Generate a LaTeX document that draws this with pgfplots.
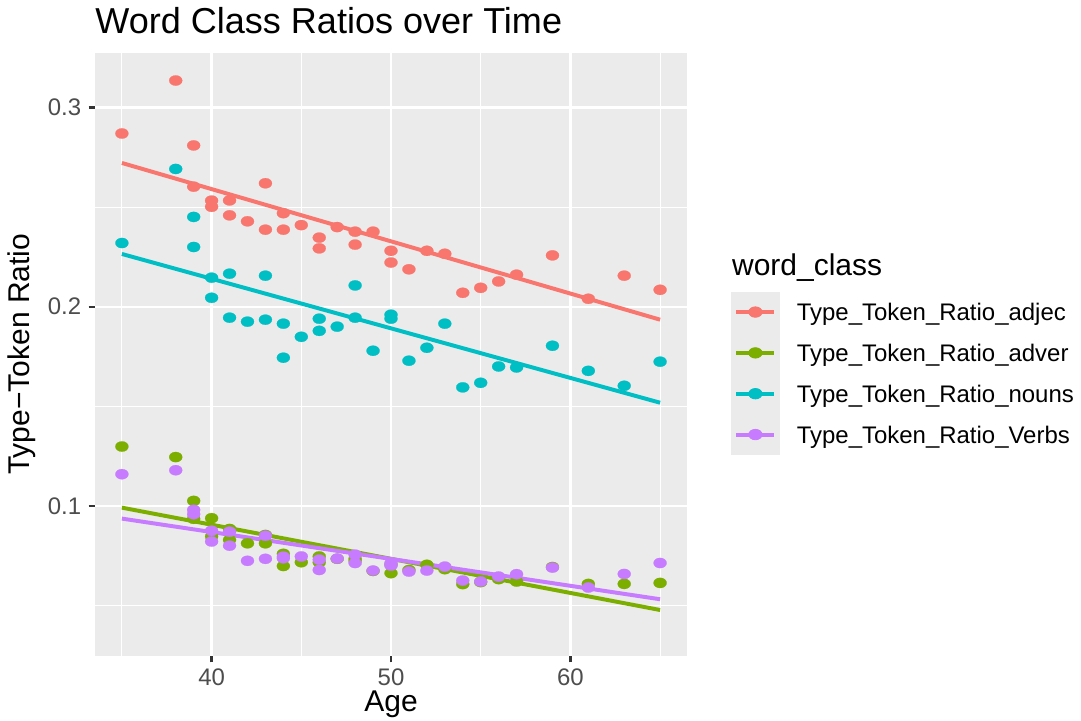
\documentclass[border=0pt]{standalone}
\usepackage{fontspec}
\setmainfont{Liberation Sans}
\usepackage{pgfplots}
\pgfplotsset{compat=1.18}
\definecolor{adjc}{HTML}{F8766D}
\definecolor{advc}{HTML}{7CAE00}
\definecolor{nounc}{HTML}{00BFC4}
\definecolor{verbc}{HTML}{C77CFF}
\definecolor{panelbg}{HTML}{EBEBEB}
\definecolor{tickc}{HTML}{333333}
\definecolor{labc}{HTML}{4D4D4D}
\newcommand{\legimg}[1]{%
  \addlegendimage{legend image code/.code={%
    \fill[panelbg] (0,-9.6bp) rectangle (23.04bp,9.6bp);
    \draw[#1, line width=1.9bp] (2.4bp,0) -- (20.64bp,0);
    \fill[#1] (11.52bp,0) ellipse [x radius=3.2bp, y radius=2.5bp];
    \path (31.2bp,0);}}}
\pgfplotsset{
  dots/.style={only marks, mark=*, color=#1, mark size=2.45bp,
    mark options={fill=#1, draw=#1, line width=0.1bp, xscale=1.28}},
}
\begin{document}
\begin{tikzpicture}
\path[use as bounding box] (0,0) rectangle (518.88bp,345.6bp);
\begin{axis}[
  at={(45.6bp,30.72bp)}, anchor=south west,
  scale only axis, width=284.16bp, height=289.6bp,
  xmin=33.5, xmax=66.5, ymin=0.0246, ymax=0.3276,
  axis background/.style={fill=panelbg},
  axis line style={draw=none},
  xtick={40,50,60}, ytick={0.1,0.2,0.3},
  minor xtick={35,45,55,65}, minor ytick={0.05,0.15,0.25},
  grid=both,
  major grid style={white, line width=1.1bp},
  minor grid style={white, line width=0.55bp},
  tick pos=left, tick align=outside,
  major tick length=3.1bp, minor tick length=0pt,
  tick style={color=tickc, line width=1.1bp},
  /pgf/number format/assume math mode=true,
  yticklabel style={/pgf/number format/fixed, /pgf/number format/fixed zerofill, /pgf/number format/precision=1},
  ticklabel style={font=\fontsize{11.5bp}{13bp}\selectfont, color=labc},
  xticklabel style={inner sep=0pt, yshift=-2.8bp},
  xlabel={Age}, ylabel={Type\textminus Token Ratio},
  every axis x label/.style={at={(axis description cs:0.5,0)}, anchor=base, yshift=-26.7bp, inner sep=0pt, font=\fontsize{14.4bp}{16bp}\selectfont},
  every axis y label/.style={at={(axis description cs:-0.1233,0.5)}, rotate=90, anchor=center, inner sep=0pt, font=\fontsize{14.4bp}{16bp}\selectfont},
  title={Word Class Ratios over Time},
  every axis title/.style={at={(axis description cs:0,1)}, anchor=base west, yshift=9.3bp, inner sep=0pt, font=\fontsize{17.3bp}{19bp}\selectfont},
  clip=false,
  legend cell align=left,
  legend style={at={(axis description cs:1.0743,0.6039)}, anchor=north west, draw=none, fill=none,
    inner sep=0pt, outer sep=0pt, row sep=0pt, column sep=0pt,
    font=\fontsize{11.5bp}{13bp}\selectfont,
    nodes={inner sep=0pt, text depth=0pt, text height=8.23bp}},
  every axis plot/.append style={forget plot},
]
\addplot[dots=adjc] coordinates {
(35,0.287) (38,0.3136) (39,0.281) (39,0.2603) (40,0.2533) (40,0.2502) (41,0.2534) (41,0.2459) (42,0.2429) (43,0.262) (43,0.2387) (44,0.247) (44,0.2387) (45,0.2410) (46,0.2347) (46,0.2293) (47,0.2400) (48,0.2377) (48,0.2312) (49,0.2377) (50,0.2281) (50,0.2222) (51,0.2188) (52,0.2281) (53,0.2266) (54,0.2070) (55,0.2095) (56,0.2127) (57,0.2161) (59,0.2258) (61,0.2040) (63,0.2156) (65,0.2085)};
\addplot[dots=nounc] coordinates {
(35,0.2320) (38,0.2692) (39,0.2451) (39,0.2300) (40,0.2146) (40,0.2045) (41,0.2166) (41,0.1945) (42,0.1925) (43,0.2156) (43,0.1935) (44,0.1915) (44,0.1744) (45,0.1849) (46,0.1940) (46,0.1879) (47,0.1900) (48,0.2107) (48,0.1945) (49,0.1779) (50,0.1960) (50,0.1940) (51,0.1729) (52,0.1794) (53,0.1915) (54,0.1595) (55,0.1618) (56,0.1700) (57,0.1695) (59,0.1804) (61,0.1678) (63,0.1603) (65,0.1724)};
\addplot[dots=advc] coordinates {
(35,0.1298) (38,0.1245) (39,0.1025) (39,0.0935) (40,0.0938) (40,0.0846) (41,0.0884) (41,0.0829) (42,0.0812) (43,0.0854) (43,0.0812) (44,0.0759) (44,0.0698) (45,0.0717) (46,0.0746) (46,0.0716) (47,0.0734) (48,0.0724) (48,0.0735) (49,0.0673) (50,0.0662) (50,0.0705) (51,0.0678) (52,0.0704) (53,0.0682) (54,0.0607) (55,0.0617) (56,0.0632) (57,0.0620) (59,0.0693) (61,0.0608) (63,0.0608) (65,0.0613)};
\addplot[dots=verbc] coordinates {
(35,0.1159) (38,0.1179) (39,0.0980) (39,0.0958) (40,0.0875) (40,0.0821) (41,0.0870) (41,0.0800) (42,0.0724) (43,0.0850) (43,0.0734) (44,0.0745) (44,0.0737) (45,0.0746) (46,0.0730) (46,0.0678) (47,0.0735) (48,0.0713) (48,0.0755) (49,0.0675) (50,0.0713) (50,0.0700) (51,0.0670) (52,0.0675) (53,0.0695) (54,0.0625) (55,0.0620) (56,0.0645) (57,0.0657) (59,0.0690) (61,0.0590) (63,0.0658) (65,0.0713)};
\addplot[adjc, line width=1.9bp] coordinates {(35,0.2722) (65,0.1935)};
\addplot[advc, line width=1.9bp] coordinates {(35,0.0991) (65,0.0477)};
\addplot[nounc, line width=1.9bp] coordinates {(35,0.2265) (65,0.1518)};
\addplot[verbc, line width=1.9bp] coordinates {(35,0.0936) (65,0.0531)};
\legimg{adjc}\addlegendentry{Type\_Token\_Ratio\_adjec}
\legimg{advc}\addlegendentry{Type\_Token\_Ratio\_adver}
\legimg{nounc}\addlegendentry{Type\_Token\_Ratio\_nouns}
\legimg{verbc}\addlegendentry{Type\_Token\_Ratio\_Verbs}
\node[anchor=base west, inner sep=0pt, font=\fontsize{14.4bp}{16bp}\selectfont] at (axis description cs:1.0755,0.6299) {word\_class};
\end{axis}
\end{tikzpicture}
\end{document}
